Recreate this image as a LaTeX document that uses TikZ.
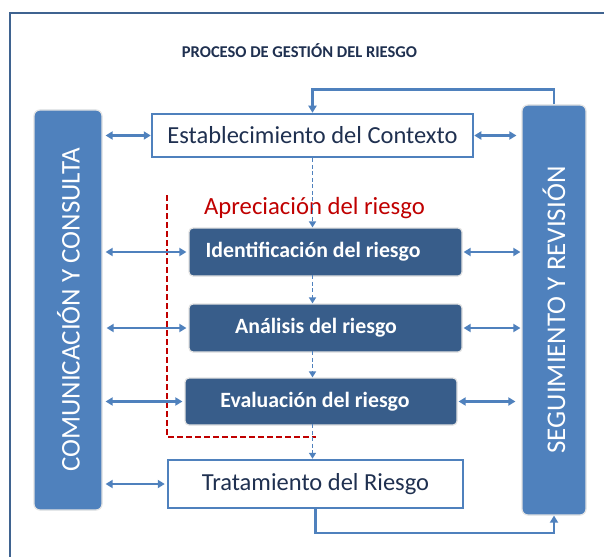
\documentclass[tikz,border=0pt]{standalone}
\usepackage{fontspec}
\setmainfont{Carlito}
\usetikzlibrary{arrows.meta}
\definecolor{barblue}{HTML}{4F81BD}
\definecolor{darkbox}{HTML}{385D8A}
\definecolor{navy}{HTML}{1F3050}
\definecolor{framec}{HTML}{3F6390}
\definecolor{redd}{HTML}{C00000}
\begin{document}
\begin{tikzpicture}[x=1pt,y=-1pt,
  sidebar/.style={rectangle, rounded corners=6pt, fill=barblue, draw=gray!22, line width=1.2pt, inner sep=0pt},
  whitebox/.style={rectangle, fill=white, draw=barblue, line width=2.5pt, inner sep=0pt},
  darkstep/.style={rectangle, rounded corners=4pt, fill=darkbox, draw=gray!22, line width=1.2pt, inner sep=0pt},
  dbl/.style={draw=barblue, line width=2.4pt, {Triangle[length=7pt,width=8pt]}-{Triangle[length=7pt,width=8pt]}},
  sarr/.style={draw=barblue, line width=2.4pt, -{Triangle[length=7pt,width=8pt]}},
  darr/.style={draw=barblue, line width=1.8pt, dash pattern=on 4pt off 2.5pt, -{Triangle[length=6pt,width=7pt]}},
  bigtxt/.style={font=\fontsize{24.5}{28}\selectfont, text=navy, inner sep=0pt},
  boldtxt/.style={font=\fontsize{21.8}{25}\selectfont\bfseries, text=white, inner sep=0pt},
  bartxt/.style={font=\fontsize{27}{30}\selectfont, text=white, inner sep=0pt, rotate=90}
]
\useasboundingbox (0,0) rectangle (604,556);
\fill[white] (0,0) rectangle (604,556);
% frame
\draw[framec, line width=2.6pt] (10,570) -- (10,13) -- (620,13);
% title
\node[font=\fontsize{16.5}{19}\selectfont\bfseries, text=navy, inner sep=0pt] (title) at (299.5,51) {PROCESO DE GESTIÓN DEL RIESGO};
% side bars
\node[sidebar, minimum width=68pt, minimum height=400pt] (lbar) at (68,310) {};
\node[bartxt] (ltxt) at (68.5,310) {COMUNICACIÓN Y CONSULTA};
\node[sidebar, minimum width=64pt, minimum height=410pt] (rbar) at (554,310) {};
\node[bartxt] (rtxt) at (554,310) {SEGUIMIENTO Y REVISIÓN};
% main boxes
\node[whitebox, minimum width=321pt, minimum height=43pt] (estab) at (312.5,135.5) {};
\node[bigtxt] (estabt) at (312.5,135.5) {Establecimiento del Contexto};
\node[darkstep, minimum width=273pt, minimum height=48pt] (ident) at (325.5,252) {};
\node[boldtxt] (identt) at (313,252) {Identificación del riesgo};
\node[darkstep, minimum width=273pt, minimum height=48pt] (anal) at (325.5,328) {};
\node[boldtxt] (analt) at (316,328) {Análisis del riesgo};
\node[darkstep, minimum width=272pt, minimum height=47pt] (eval) at (321,401.5) {};
\node[boldtxt] (evalt) at (315,401.5) {Evaluación del riesgo};
\node[whitebox, minimum width=295pt, minimum height=48pt] (trat) at (315.5,484) {};
\node[bigtxt] (tratt) at (315.5,484) {Tratamiento del Riesgo};
% red dashed region
\node[font=\fontsize{24.7}{28}\selectfont, text=redd, inner sep=0pt] (apre) at (314.5,208) {Apreciación del riesgo};
\coordinate (r1) at (167,195);
\coordinate (r2) at (167,437);
\coordinate (r3) at (316,437);
\draw[redd, line width=2.4pt, dash pattern=on 6pt off 3pt] (r1) -- (r2) -- (r3);
% vertical dashed flow
\draw[darr] (estab.south) -- (ident.north -| estab.south);
\draw[darr] (ident.north -| estab.south) ++(0,48) coordinate (i1) -- (anal.north -| i1);
\draw[darr] (anal.north -| estab.south) ++(0,48) coordinate (a1) -- (eval.north -| a1);
\draw[darr] (eval.north -| estab.south) ++(0,47) coordinate (e1) -- (trat.north -| e1);
% left double arrows
\draw[dbl, shorten <=3pt] (lbar.east |- estab.west) -- (estab.west);
\draw[dbl, shorten <=3pt, shorten >=2pt] (lbar.east |- ident.west) -- (ident.west);
\draw[dbl, shorten <=4pt, shorten >=2pt] (lbar.east |- anal.west) -- (anal.west);
\draw[dbl, shorten <=3pt, shorten >=2pt] (lbar.east |- eval.west) -- (eval.west);
\draw[dbl, shorten <=3pt, shorten >=2pt] (lbar.east |- trat.west) -- (trat.west);
% right double arrows
\draw[dbl, shorten >=5pt] (estab.east) -- (rbar.west |- estab.east);
\draw[dbl, shorten <=1pt, shorten >=1pt] (ident.east) -- (rbar.west |- ident.east);
\draw[dbl, shorten <=1pt, shorten >=1pt] (anal.east) -- (rbar.west |- anal.east);
\draw[dbl, shorten <=1pt, shorten >=6pt] (eval.east) -- (rbar.west |- eval.east);
% feedback loops
\draw[sarr] (rbar.north) -- ++(0,-15) -| (estab.north);
\draw[sarr] (trat.south) -- ++(0,24) -| (rbar.south);
\end{tikzpicture}
\end{document}
